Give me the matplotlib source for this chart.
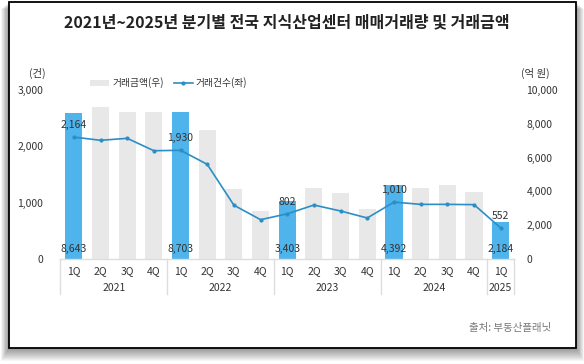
import numpy as np
import matplotlib
matplotlib.use('Agg')
import matplotlib.pyplot as plt
import matplotlib.transforms as mtransforms
from matplotlib.patches import Rectangle, Patch
from matplotlib.lines import Line2D

plt.rcParams['font.family'] = ['Noto Sans CJK KR', 'DejaVu Sans']

# data
quarters = ['1Q', '2Q', '3Q', '4Q'] * 4 + ['1Q']
years = ['2021', '2022', '2023', '2024', '2025']
amount = [8643, 8980, 8700, 8700, 8703, 7650, 4160, 2860, 3403, 4185, 3925, 2960,
          4392, 4185, 4380, 3970, 2184]   # 억 원 (right)
count = [2164, 2107, 2142, 1922, 1930, 1680, 955, 698, 802, 958, 852, 728,
         1010, 970, 970, 965, 552]         # 건 (left)
labeled = [0, 4, 8, 12, 16]

gray = '#e8e8e8'
blue = '#4fb3ec'
line_c = '#2b8ec6'
txt = '#333333'

fig = plt.figure(figsize=(5.84, 3.64), dpi=100)
W, H = 584, 364

# card shadow + border
for d in range(1, 14):
    fig.patches.append(Rectangle(((9 - d * 0.6) / W, 1 - (348 + d) / H),
                                 (576 - 9 + d * 1.2) / W, (346 + d * 0.5) / H,
                                 transform=fig.transFigure, facecolor='black',
                                 alpha=0.035, edgecolor='none', zorder=0))
fig.patches.append(Rectangle((9 / W, 1 - 348 / H), (576 - 9) / W, 346 / H,
                             transform=fig.transFigure, facecolor='white',
                             edgecolor='black', linewidth=1.3, zorder=1))

ax = fig.add_axes([60 / W, 1 - 259 / H, (514 - 60) / W, (259 - 90) / H])
ax2 = ax.twinx()
ax.set_zorder(3)
ax.patch.set_visible(False)
ax2.set_zorder(2)

x = np.arange(len(amount))
colors = [blue if i in labeled else gray for i in x]
ax2.bar(x, amount, width=0.64, color=colors, zorder=1)
ax.plot(x, count, color=line_c, lw=1.2, marker='o', ms=2, zorder=3)

ax.set_xlim(-0.52, 16.5)
ax.set_ylim(0, 3000)
ax2.set_ylim(0, 10000)
ax.set_yticks([0, 1000, 2000, 3000])
ax.set_yticklabels(['0', '1,000', '2,000', '3,000'])
ax2.set_yticks(range(0, 10001, 2000))
ax2.set_yticklabels(['0', '2,000', '4,000', '6,000', '8,000', '10,000'])
for a in (ax, ax2):
    for s in a.spines.values():
        s.set_visible(False)
    a.tick_params(length=0, labelsize=7.5, labelcolor=txt)
    a.set_xticks([])
ax.tick_params(axis='y', pad=12)
ax2.tick_params(axis='y', pad=9)

ax.axhline(0, color='#dddddd', lw=1, clip_on=False)

# value labels
for i in labeled:
    ax.annotate(f'{count[i]:,}', (x[i], count[i]), xytext=(0, 12),
                textcoords='offset pixels', ha='center', va='center',
                fontsize=7.5, color=txt, zorder=5)
    ax2.annotate(f'{amount[i]:,}', (x[i], 0), xytext=(0, 10),
                 textcoords='offset pixels', ha='center', va='center',
                 fontsize=7.5, color=txt, zorder=5)

# category axis (quarter / year)
bt = mtransforms.blended_transform_factory(ax.transData, fig.transFigure)
for i, q in enumerate(quarters):
    ax.text(x[i], 1 - 271 / H, q, transform=bt, ha='center', va='center',
            fontsize=7.5, color=txt)
for yr, xc in zip(years, [1.5, 5.5, 9.5, 13.5, 16]):
    ax.text(xc, 1 - 288 / H, yr, transform=bt, ha='center', va='center',
            fontsize=7.5, color=txt)
for xs in [-0.52, 3.5, 7.5, 11.5, 15.5, 16.5]:
    ax.add_line(Line2D([xs, xs], [1 - 259 / H, 1 - 294 / H], transform=bt,
                       color='#dddddd', lw=1, clip_on=False))

# legend
handles = [Patch(facecolor=gray, edgecolor='none'),
           Line2D([0], [0], color=line_c, lw=1.2, marker='o', ms=2)]
fig.legend(handles, ['거래금액(우)', '거래건수(좌)'], ncol=2, frameon=False,
           loc='center left', bbox_to_anchor=(90 / W, 1 - 83 / H),
           fontsize=7, handlelength=2, handleheight=0.6, columnspacing=1.0,
           handletextpad=0.3, labelcolor=txt, borderaxespad=0, borderpad=0)

fig.text(37 / W, 1 - 73 / H, '(건)', ha='center', va='center', fontsize=7.5, color=txt)
fig.text(535 / W, 1 - 73 / H, '(억 원)', ha='center', va='center', fontsize=7.5, color=txt)

fig.text(287 / W, 1 - 22 / H, '2021년~2025년 분기별 전국 지식산업센터 매매거래량 및 거래금액',
         ha='center', va='center', fontsize=11.5, fontweight='bold', color='#222222')
fig.text(551 / W, 1 - 328 / H, '출처: 부동산플래닛', ha='right', va='center',
         fontsize=7.5, color='#777777')

fig.savefig('out.png', dpi=100)
